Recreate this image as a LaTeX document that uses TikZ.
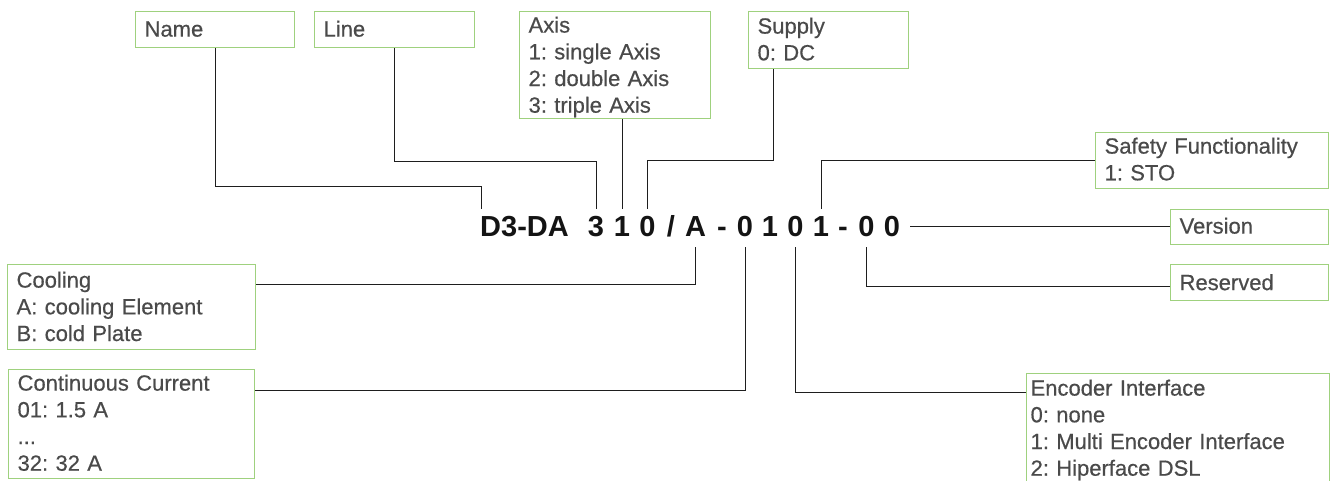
\documentclass[tikz,border=0pt]{standalone}
\usepackage{fontspec}
\setmainfont{Liberation Sans}
\newfontfamily\boxfont[FakeBold=0.5]{Liberation Sans}
\usetikzlibrary{calc}
\definecolor{boxgreen}{HTML}{9FD17E}
\definecolor{boxtext}{HTML}{4A4A4A}
\definecolor{codetext}{HTML}{141414}
\definecolor{conncol}{HTML}{1E1E1E}
\begin{document}
\frenchspacing
\begin{tikzpicture}[x=1pt,y=-1pt,
  box/.style={draw=boxgreen, line width=1.2pt, anchor=north west, inner xsep=9pt, inner ysep=0pt,
    align=left, text=boxtext, font=\boxfont\fontsize{22}{26.7}\selectfont},
  code/.style={anchor=base, inner xsep=0pt, inner ysep=6pt, text height=21pt, text depth=5pt,
    text=codetext, font=\fontsize{29}{34}\selectfont\bfseries},
  conn/.style={draw=conncol, line width=1pt}]
\useasboundingbox (0,0) rectangle (1330,480);

% boxes (text height = first baseline below top, text depth = rest of box)
\node[box, text width=141pt, text height=25pt, text depth=11pt] (name) at (135,11) {Name};
\node[box, text width=142pt, text height=25pt, text depth=11pt] (line) at (314,11) {Line};
\node[box, text width=173pt, text height=21pt, text depth=86pt] (axis) at (519,11) {Axis\\1: single Axis\\2: double Axis\\3: triple Axis};
\node[box, text width=142pt, text height=22pt, text depth=35pt] (supply) at (748,11) {Supply\\0: DC};
\node[box, text width=215pt, text height=21pt, text depth=35pt] (safety) at (1095,132) {Safety Functionality\\1: STO};
\node[box, text width=140pt, text height=24pt, text depth=11pt] (version) at (1170,209) {Version};
\node[box, text width=140pt, text height=25.5pt, text depth=10.5pt] (reserved) at (1170,264) {Reserved};
\node[box, text width=230pt, text height=23pt, text depth=62pt] (cooling) at (7,264) {Cooling\\A: cooling Element\\B: cold Plate};
\node[box, text width=228pt, text height=21pt, text depth=88pt] (cont) at (8,369) {Continuous Current\\01: 1.5 A\\...\\32: 32 A};
\node[box, inner xsep=4pt, text width=295pt, text height=22pt, text depth=92pt] (enc) at (1026,373) {Encoder Interface\\0: none\\1: Multi Encoder Interface\\2: Hiperface DSL};

% code characters
\node[code] (dn) at (524.5,236) {D3-DA};
\node[code] (c3) at (596,236) {3};
\node[code] (c1a) at (622,236) {1};
\node[code] (c0a) at (647.5,236) {0};
\node[code] (csl) at (671,236) {/};
\node[code] (cA) at (695.5,236) {A};
\node[code] (cm1) at (722,236) {-};
\node[code] (c0b) at (745,236) {0};
\node[code] (c1x) at (770,236) {1};
\node[code] (c0e) at (795.5,236) {0};
\node[code] (c1b) at (821,236) {1};
\node[code] (cm2) at (843,236) {-};
\node[code] (c0c) at (866.5,236) {0};
\node[code] (c0d) at (892,236) {0};

% connectors
\coordinate (supbend) at (773,160);
\draw[conn] (name.south) -- ++(0,138) -| ([xshift=2pt]dn.north west);
\draw[conn] (line.south) -- ++(0,113) -| (c3.north);
\draw[conn] (c1a.north) -- (c1a.north |- axis.south);
\draw[conn] (c0a.north) |- (supbend) -- (supbend |- supply.south);
\draw[conn] (c1b.north) |- (safety.west);
\draw[conn] ([xshift=10pt,yshift=1.5pt]c0d.east) -- ([yshift=1.5pt]c0d.east -| version.west);
\draw[conn] (c0c.south) |- ([yshift=-4pt]reserved.west);
\draw[conn] (cA.south) |- ($(cooling.north east)+(0,20)$);
\draw[conn] (c0b.south) |- ($(cont.north east)+(0,21)$);
\draw[conn] (c0e.south) |- ($(enc.north west)+(0,19)$);
\end{tikzpicture}
\end{document}
